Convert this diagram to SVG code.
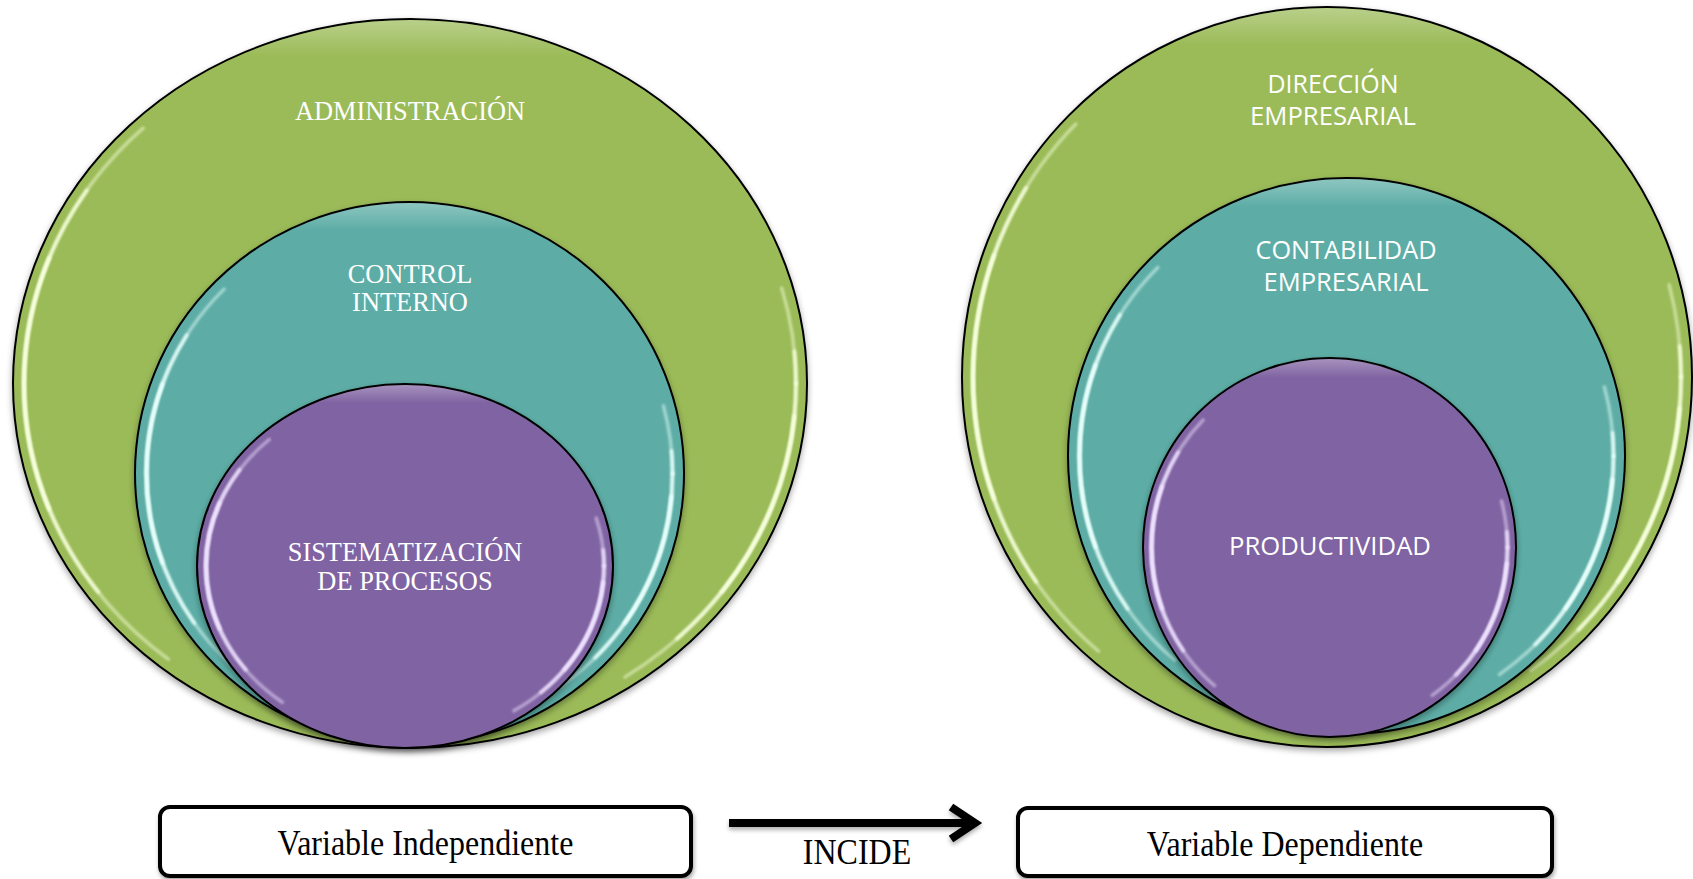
<svg xmlns="http://www.w3.org/2000/svg" width="1693" height="879" viewBox="0 0 1693 879">
  <defs>
    <style>
      .ring { stroke: #000; stroke-width: 2; filter: url(#drop); }
      .green { fill: #9BBB59; }
      .teal { fill: #5DADA6; }
      .purple { fill: #8064A2; }
      .sheen { fill: url(#topSheen); stroke: none; }
      .gloss { fill: none; stroke-linecap: round; filter: url(#soft); stroke-width: 3.5; }
      .gA { stroke-dasharray: 55 75 95 120 15 0; stroke-opacity: 0.5; }
      .gB { stroke-dasharray: 45 100 67 143 5 0; stroke-opacity: 0.85; }
      .gC { stroke-dasharray: 0 5 30 125 40 160; stroke-opacity: 1; }
      .gloss-green { stroke: #f6ffdc; }
      .gloss-teal { stroke: #e8fffc; }
      .gloss-purple { stroke: #eee2ff; }
      .serif { font-family: "Liberation Serif", "Times New Roman", serif; }
      .sans { font-family: "Open Sans", "Noto Sans", sans-serif; }
      .label { fill: #ffffff; font-size: 26.4px; text-anchor: middle; }
      .label-sans { fill: #ffffff; font-size: 25px; text-anchor: middle; }
      .box { fill: #ffffff; stroke: #000; stroke-width: 4; filter: url(#boxShadow); }
      .boxText { fill: #000; font-size: 32px; text-anchor: middle; }
    </style>
    <linearGradient id="topSheen" x1="0" y1="0" x2="0" y2="1">
      <stop offset="0" stop-color="#ffffff" stop-opacity="0.3"/>
      <stop offset="0.05" stop-color="#ffffff" stop-opacity="0"/>
      <stop offset="1" stop-color="#ffffff" stop-opacity="0"/>
    </linearGradient>
    <filter id="drop" x="-10%" y="-10%" width="120%" height="125%">
      <feDropShadow dx="0" dy="3" stdDeviation="3" flood-color="#000" flood-opacity="0.35"/>
    </filter>
    <filter id="soft" x="-10%" y="-10%" width="120%" height="120%">
      <feGaussianBlur stdDeviation="1.1"/>
    </filter>
    <filter id="boxShadow" x="-5%" y="-20%" width="110%" height="150%">
      <feDropShadow dx="1" dy="3" stdDeviation="2" flood-color="#000" flood-opacity="0.35"/>
    </filter>
    <filter id="lineShadow" filterUnits="userSpaceOnUse" x="700" y="780" width="320" height="90">
      <feDropShadow dx="0" dy="3" stdDeviation="2" flood-color="#000" flood-opacity="0.3"/>
    </filter>
    <marker id="chevron" markerUnits="userSpaceOnUse" viewBox="0 0 44 44" markerWidth="44" markerHeight="44" refX="31" refY="22" orient="auto">
      <path d="M 7 6 L 31 22 L 7 38" fill="none" stroke="#000" stroke-width="8" stroke-linejoin="miter"/>
    </marker>
  </defs>

  <!-- Independent variable: nested rings -->
  <g id="administracion">
    <ellipse class="ring green" cx="410" cy="383.5" rx="397" ry="364.5"/>
    <ellipse class="sheen" cx="410" cy="383.5" rx="396" ry="363.5"/>
    <ellipse class="gloss gloss-green gA" cx="410" cy="383.5" rx="386" ry="353.5" pathLength="360"/>
    <ellipse class="gloss gloss-green gB" cx="410" cy="383.5" rx="386" ry="353.5" pathLength="360"/>
    <ellipse class="gloss gloss-green gC" cx="410" cy="383.5" rx="386" ry="353.5" pathLength="360"/>
    <text class="serif label" x="410" y="120">ADMINISTRACIÓN</text>
  </g>
  <g id="control-interno">
    <ellipse class="ring teal" cx="409.5" cy="473.5" rx="274.5" ry="271.5"/>
    <ellipse class="sheen" cx="409.5" cy="473.5" rx="273.5" ry="270.5"/>
    <ellipse class="gloss gloss-teal gA" cx="409.5" cy="473.5" rx="263" ry="260" pathLength="360"/>
    <ellipse class="gloss gloss-teal gB" cx="409.5" cy="473.5" rx="263" ry="260" pathLength="360"/>
    <ellipse class="gloss gloss-teal gC" cx="409.5" cy="473.5" rx="263" ry="260" pathLength="360"/>
    <text class="serif label" x="410" y="283">CONTROL</text>
    <text class="serif label" x="410" y="311">INTERNO</text>
  </g>
  <g id="sistematizacion">
    <ellipse class="ring purple" cx="405" cy="566" rx="208" ry="182"/>
    <ellipse class="sheen" cx="405" cy="566" rx="207" ry="181"/>
    <ellipse class="gloss gloss-purple gA" cx="405" cy="566" rx="199" ry="173" pathLength="360"/>
    <ellipse class="gloss gloss-purple gB" cx="405" cy="566" rx="199" ry="173" pathLength="360"/>
    <ellipse class="gloss gloss-purple gC" cx="405" cy="566" rx="199" ry="173" pathLength="360"/>
    <text class="serif label" x="405" y="561">SISTEMATIZACIÓN</text>
    <text class="serif label" x="405" y="590">DE PROCESOS</text>
  </g>

  <!-- Dependent variable: nested rings -->
  <g id="direccion-empresarial">
    <ellipse class="ring green" cx="1327" cy="377" rx="365" ry="370"/>
    <ellipse class="sheen" cx="1327" cy="377" rx="364" ry="369"/>
    <ellipse class="gloss gloss-green gA" cx="1327" cy="377" rx="354" ry="359" pathLength="360"/>
    <ellipse class="gloss gloss-green gB" cx="1327" cy="377" rx="354" ry="359" pathLength="360"/>
    <ellipse class="gloss gloss-green gC" cx="1327" cy="377" rx="354" ry="359" pathLength="360"/>
    <text class="sans label-sans" x="1333" y="93" textLength="131" lengthAdjust="spacingAndGlyphs">DIRECCIÓN</text>
    <text class="sans label-sans" x="1333" y="125" textLength="166" lengthAdjust="spacingAndGlyphs">EMPRESARIAL</text>
  </g>
  <g id="contabilidad-empresarial">
    <ellipse class="ring teal" cx="1346.5" cy="456" rx="278.5" ry="278"/>
    <ellipse class="sheen" cx="1346.5" cy="456" rx="277.5" ry="277"/>
    <ellipse class="gloss gloss-teal gA" cx="1346.5" cy="456" rx="267" ry="266.5" pathLength="360"/>
    <ellipse class="gloss gloss-teal gB" cx="1346.5" cy="456" rx="267" ry="266.5" pathLength="360"/>
    <ellipse class="gloss gloss-teal gC" cx="1346.5" cy="456" rx="267" ry="266.5" pathLength="360"/>
    <text class="sans label-sans" x="1346" y="259" textLength="181" lengthAdjust="spacingAndGlyphs">CONTABILIDAD</text>
    <text class="sans label-sans" x="1346" y="291" textLength="165" lengthAdjust="spacingAndGlyphs">EMPRESARIAL</text>
  </g>
  <g id="productividad">
    <ellipse class="ring purple" cx="1329.5" cy="547.5" rx="186.5" ry="189.5"/>
    <ellipse class="sheen" cx="1329.5" cy="547.5" rx="185.5" ry="188.5"/>
    <ellipse class="gloss gloss-purple gA" cx="1329.5" cy="547.5" rx="178" ry="181" pathLength="360"/>
    <ellipse class="gloss gloss-purple gB" cx="1329.5" cy="547.5" rx="178" ry="181" pathLength="360"/>
    <ellipse class="gloss gloss-purple gC" cx="1329.5" cy="547.5" rx="178" ry="181" pathLength="360"/>
    <text class="sans label-sans" x="1330" y="555" textLength="202" lengthAdjust="spacingAndGlyphs">PRODUCTIVIDAD</text>
  </g>

  <!-- Caption boxes -->
  <g id="variable-independiente">
    <rect class="box" x="160" y="807" width="531" height="69" rx="10"/>
    <text class="serif boxText" transform="translate(425.5 855) scale(1 1.12)">Variable Independiente</text>
  </g>
  <g id="variable-dependiente">
    <rect class="box" x="1018" y="808" width="534" height="68" rx="10"/>
    <text class="serif boxText" transform="translate(1285 856) scale(1 1.12)">Variable Dependiente</text>
  </g>

  <!-- Connector -->
  <g id="connectors">
    <line x1="729" y1="823" x2="975" y2="823" stroke="#000" stroke-width="8" marker-end="url(#chevron)" filter="url(#lineShadow)"/>
    <text class="serif boxText" transform="translate(857 864) scale(1 1.12)">INCIDE</text>
  </g>
</svg>
